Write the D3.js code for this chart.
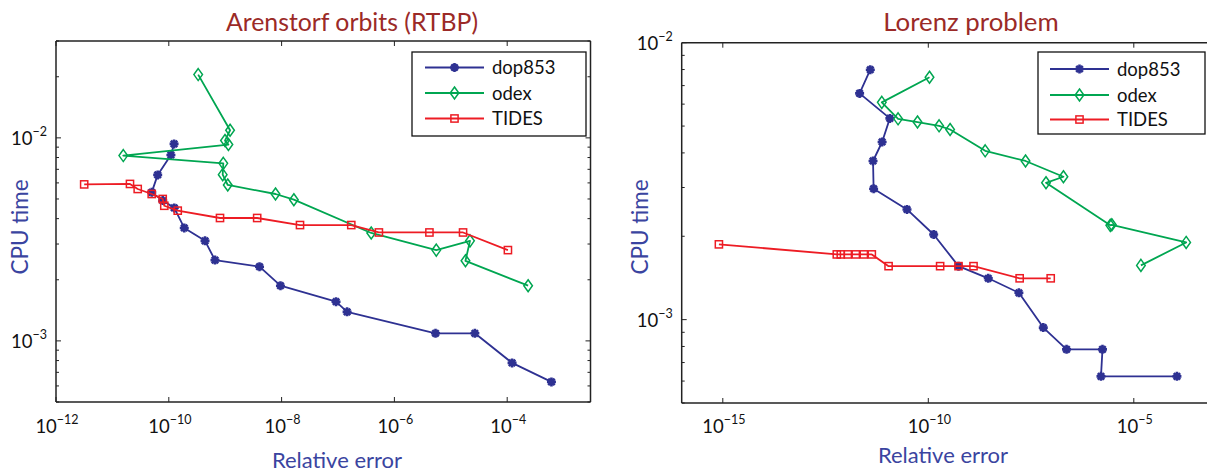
<!DOCTYPE html>
<html>
<head>
<meta charset="utf-8">
<script src="https://cdn.jsdelivr.net/npm/d3@7"></script>
<style>
  body { margin: 0; background: #fff; }
  text { font-family: Lato, "Open Sans", sans-serif; }
</style>
</head>
<body>
<svg id="chart" width="1207" height="475"></svg>
<script>
// series names + colours (same in both panels)
const methods = ["dop853", "odex", "TIDES"];
const methodColors = ["#2e3192", "#00a651", "#ed1c24"];
const markerKinds = ["star", "diamond", "square"];

// --- Arenstorf orbits (RTBP): relative error vs CPU time
const arenDopErr  = [1.24e-10, 1.09e-10, 6.35e-11, 4.98e-11, 7.80e-11, 1.25e-10, 1.88e-10, 4.39e-10, 6.59e-10, 4.06e-9, 9.55e-9, 9.23e-8, 1.45e-7, 5.36e-6, 2.67e-5, 1.22e-4, 6.09e-4];
const arenDopTime = [9.34e-3, 8.24e-3, 6.57e-3, 5.39e-3, 4.91e-3, 4.52e-3, 3.60e-3, 3.11e-3, 2.50e-3, 2.32e-3, 1.87e-3, 1.56e-3, 1.39e-3, 1.09e-3, 1.09e-3, 7.79e-4, 6.28e-4];
const arenOdexErr  = [3.32e-10, 1.22e-9, 9.91e-10, 1.14e-9, 1.56e-11, 9.25e-10, 9.03e-10, 1.11e-9, 7.80e-9, 1.65e-8, 3.88e-7, 5.53e-6, 2.19e-5, 1.82e-5, 2.35e-4];
const arenOdexTime = [2.05e-2, 1.09e-2, 9.70e-3, 9.27e-3, 8.18e-3, 7.49e-3, 6.59e-3, 5.86e-3, 5.29e-3, 4.96e-3, 3.40e-3, 2.80e-3, 3.11e-3, 2.48e-3, 1.87e-3];
const arenTidesErr  = [3.16e-12, 2.05e-11, 2.81e-11, 4.98e-11, 7.80e-11, 8.32e-11, 1.44e-10, 8.09e-10, 3.69e-9, 2.12e-8, 1.72e-7, 5.31e-7, 4.18e-6, 1.65e-5, 1.03e-4];
const arenTidesTime = [5.90e-3, 5.93e-3, 5.60e-3, 5.29e-3, 5.00e-3, 4.63e-3, 4.38e-3, 4.03e-3, 4.03e-3, 3.72e-3, 3.72e-3, 3.42e-3, 3.42e-3, 3.42e-3, 2.80e-3];

// --- Lorenz problem
const lorDopErr  = [3.88e-12, 2.13e-12, 1.16e-11, 7.52e-12, 4.52e-12, 4.67e-12, 3.03e-11, 1.35e-10, 5.43e-10, 2.88e-9, 1.60e-8, 6.28e-8, 2.31e-7, 1.73e-6, 1.59e-6, 1.12e-4];
const lorDopTime = [7.99e-3, 6.56e-3, 5.33e-3, 4.38e-3, 3.74e-3, 2.97e-3, 2.50e-3, 2.03e-3, 1.56e-3, 1.41e-3, 1.25e-3, 9.36e-4, 7.81e-4, 7.81e-4, 6.24e-4, 6.24e-4];
const lorOdexErr  = [1.07e-10, 7.39e-12, 1.84e-11, 5.46e-11, 1.83e-10, 3.39e-10, 2.42e-9, 2.32e-8, 1.94e-7, 7.31e-8, 2.68e-6, 2.92e-6, 1.88e-4, 1.49e-5];
const lorOdexTime = [7.50e-3, 6.09e-3, 5.31e-3, 5.17e-3, 5.01e-3, 4.86e-3, 4.07e-3, 3.74e-3, 3.28e-3, 3.12e-3, 2.19e-3, 2.20e-3, 1.90e-3, 1.57e-3];
const lorTidesErr  = [8.04e-16, 5.94e-13, 7.43e-13, 1.10e-12, 1.72e-12, 2.70e-12, 4.22e-12, 1.08e-11, 1.94e-10, 5.43e-10, 1.26e-9, 1.67e-8, 9.51e-8];
const lorTidesTime = [1.87e-3, 1.72e-3, 1.72e-3, 1.72e-3, 1.72e-3, 1.72e-3, 1.72e-3, 1.56e-3, 1.56e-3, 1.56e-3, 1.56e-3, 1.41e-3, 1.41e-3];

// tick values
const arenXTicks = [1e-12, 1e-10, 1e-8, 1e-6, 1e-4];
const arenYTicks = [1e-3, 1e-2];
const lorXTicks = [1e-15, 1e-10, 1e-5];
const lorYTicks = [1e-3, 1e-2];

const svg = d3.select("#chart");
svg.append("rect").attr("width", 1207).attr("height", 475).attr("fill", "#fff");

function zip(a, b) { return a.map((v, i) => [v, b[i]]); }

function drawMarker(g, kind, color) {
  if (kind == "star") {
    g.append("path")
      .attr("d", "M-4.5,0H4.5M0,-4.5V4.5M-3.2,-3.2L3.2,3.2M-3.2,3.2L3.2,-3.2")
      .attr("stroke", color).attr("stroke-width", 2.6).attr("fill", "none");
  } else if (kind == "diamond") {
    g.append("path").attr("d", "M0,-6L4.3,0L0,6L-4.3,0Z")
      .attr("stroke", color).attr("stroke-width", 1.5).attr("fill", "none");
  } else {
    g.append("rect").attr("x", -3.6).attr("y", -3.6).attr("width", 7.2).attr("height", 7.2)
      .attr("stroke", color).attr("stroke-width", 1.5).attr("fill", "none");
  }
}

function expLabel(sel, v, anchor) {
  const e = Math.round(Math.log10(v));
  const t = sel.append("text").attr("text-anchor", anchor).attr("fill", "#111");
  t.append("tspan").attr("font-size", 18.5).text("10");
  t.append("tspan").attr("font-size", 12.5).attr("dy", -9).text("\u2212" + Math.abs(e));
  return t;
}

function panel(o) {
  const g = svg.append("g");
  const x = d3.scaleLog().domain(o.xDomain).range([o.left, o.right]);
  const y = d3.scaleLog().domain(o.yDomain).range([o.bottom, o.top]);
  const W = Math.min(o.right, 1207);

  const clipId = "clip" + o.id;
  svg.append("clipPath").attr("id", clipId)
    .append("rect").attr("x", o.left).attr("y", o.top)
    .attr("width", W - o.left).attr("height", o.bottom - o.top);

  // ticks, inward on every side
  const tk = g.append("g").attr("stroke", "#222").attr("stroke-width", 1);
  o.xTicks.forEach(v => {
    const px = x(v);
    tk.append("line").attr("x1", px).attr("x2", px).attr("y1", o.bottom).attr("y2", o.bottom - 5);
    tk.append("line").attr("x1", px).attr("x2", px).attr("y1", o.top).attr("y2", o.top + 5);
  });
  const [y0, y1] = o.yDomain;
  for (let p = Math.floor(Math.log10(y0)); p <= Math.ceil(Math.log10(y1)); p++) {
    for (let k = 1; k <= 9; k++) {
      const v = k * Math.pow(10, p);
      if (v < y0 * 0.999 || v > y1 * 1.001) continue;
      const len = k == 1 ? 5 : 3;
      const py = y(v);
      tk.append("line").attr("x1", o.left).attr("x2", o.left + len).attr("y1", py).attr("y2", py);
      if (o.right < 1207)
        tk.append("line").attr("x1", o.right).attr("x2", o.right - len).attr("y1", py).attr("y2", py);
    }
  }

  // tick labels
  o.xTicks.forEach(v => {
    expLabel(g, v, "middle").attr("x", x(v) + 1).attr("y", 433);
  });
  o.yTicks.forEach(v => {
    expLabel(g, v, "end").attr("x", o.left - 9).attr("y", y(v) + 7);
  });

  // series
  const line = d3.line().x(d => x(d[0])).y(d => y(d[1]));
  const plot = g.append("g").attr("clip-path", "url(#" + clipId + ")");
  o.series.forEach((s, i) => {
    plot.append("path").datum(s).attr("d", line)
      .attr("fill", "none").attr("stroke", methodColors[i]).attr("stroke-width", 1.8)
      .attr("stroke-linejoin", "round");
    s.forEach(d => {
      const m = plot.append("g").attr("transform", `translate(${x(d[0])},${y(d[1])})`);
      drawMarker(m, markerKinds[i], methodColors[i]);
    });
  });

  // frame
  const fr = g.append("g").attr("stroke", "#222").attr("stroke-width", 1.5).attr("fill", "none");
  fr.append("line").attr("x1", o.left).attr("x2", W).attr("y1", o.top).attr("y2", o.top);
  fr.append("line").attr("x1", o.left).attr("x2", W).attr("y1", o.bottom).attr("y2", o.bottom);
  fr.append("line").attr("x1", o.left).attr("x2", o.left).attr("y1", o.top).attr("y2", o.bottom);
  if (o.right < 1207)
    fr.append("line").attr("x1", o.right).attr("x2", o.right).attr("y1", o.top).attr("y2", o.bottom);

  // legend
  const lg = g.append("g");
  lg.append("rect").attr("x", o.legend.x).attr("y", o.legend.y)
    .attr("width", o.legend.w).attr("height", o.legend.h)
    .attr("fill", "#fff").attr("stroke", "#111").attr("stroke-width", 1.3);
  methods.forEach((name, i) => {
    const ry = o.legend.rows[i];
    const lx = o.legend.lineX;
    lg.append("line").attr("x1", lx).attr("x2", lx + 59).attr("y1", ry).attr("y2", ry)
      .attr("stroke", methodColors[i]).attr("stroke-width", 1.8);
    drawMarker(lg.append("g").attr("transform", `translate(${lx + 29.5},${ry})`), markerKinds[i], methodColors[i]);
    lg.append("text").attr("x", lx + 67).attr("y", ry + 6.5)
      .attr("font-size", 18.5).attr("fill", "#111").text(name);
  });

  // titles
  g.append("text").attr("x", o.titleX).attr("y", 31).attr("text-anchor", "middle")
    .attr("font-size", o.titleSize).attr("fill", "#9b2a27").text(o.title);
  g.append("text").attr("x", o.xLabelX).attr("y", o.xLabelY).attr("text-anchor", "middle")
    .attr("font-size", 22).attr("fill", "#3a44a0").text("Relative error");
  g.append("text").attr("transform", `translate(${o.yLabelX},227) rotate(-90)`)
    .attr("text-anchor", "middle").attr("font-size", 22.5).attr("fill", "#3a44a0").text("CPU time");
}

panel({
  id: "a", title: "Arenstorf orbits (RTBP)", titleX: 352, titleSize: 24.8,
  left: 56, right: 590.5, top: 41, bottom: 402,
  xDomain: [1e-12, 3e-3], yDomain: [5e-4, 3e-2],
  xTicks: arenXTicks, yTicks: arenYTicks,
  series: [zip(arenDopErr, arenDopTime), zip(arenOdexErr, arenOdexTime), zip(arenTidesErr, arenTidesTime)],
  legend: { x: 412, y: 52, w: 174, h: 84, lineX: 425, rows: [67.5, 93, 118.5] },
  xLabelX: 337, xLabelY: 468, yLabelX: 28
});

panel({
  id: "b", title: "Lorenz problem", titleX: 971, titleSize: 25.8,
  left: 681.7, right: 1216, top: 42.7, bottom: 403,
  xDomain: [1e-16, 1e-3], yDomain: [5e-4, 1e-2],
  xTicks: lorXTicks, yTicks: lorYTicks,
  series: [zip(lorDopErr, lorDopTime), zip(lorOdexErr, lorOdexTime), zip(lorTidesErr, lorTidesTime)],
  legend: { x: 1038, y: 52, w: 167, h: 82, lineX: 1050, rows: [69, 95, 119.5] },
  xLabelX: 943, xLabelY: 463, yLabelX: 648
});
</script>
</body>
</html>
